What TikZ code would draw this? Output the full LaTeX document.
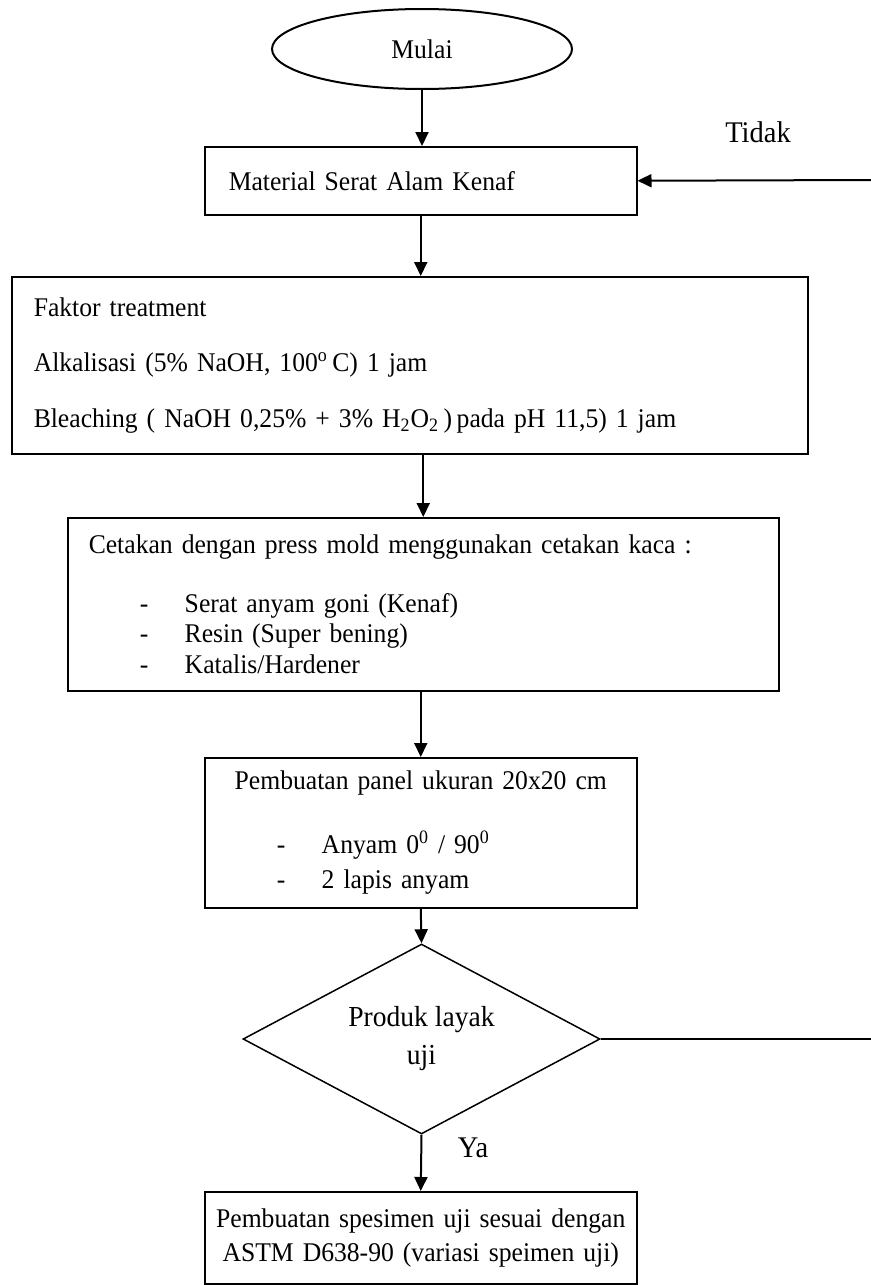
\documentclass[tikz,border=0pt]{standalone}
\usepackage{fontspec}
\setmainfont{Liberation Serif}[FakeStretch=0.95]
\usetikzlibrary{arrows.meta, shapes.geometric}

\newcommand{\dashitem}{\hspace*{25.5pt}\makebox[22.5pt][l]{-}}

\begin{document}
\begin{tikzpicture}[x=0.5pt, y=-0.5pt,
    startnode/.style={draw, ellipse, line width=1pt, minimum width=150pt, minimum height=40pt, inner sep=0pt, font=\fontsize{13.5}{16}\selectfont},
    procbox/.style={draw, line width=0.75pt, anchor=north west, align=left, inner ysep=0pt, inner xsep=10.5pt, font=\fontsize{13.5}{15.25}\selectfont},
    decision/.style={draw, diamond, aspect=1.88, line width=0.75pt, minimum width=178.5pt, minimum height=95pt, inner sep=0pt, align=center, font=\fontsize{14.5}{19}\selectfont},
    branchlabel/.style={font=\fontsize{15}{18}\selectfont},
    flowarrow/.style={-{Triangle[length=7pt, width=6.5pt]}, line width=1pt}]
    \useasboundingbox (0,0) rectangle (871,1285);

    \node[startnode] (mulai) at (422,49) {Mulai};
    \node[procbox, text width=192pt, inner xsep=12pt, minimum height=34pt] (material) at (204,146) {Material Serat Alam Kenaf};
    \node[procbox, text width=376pt, inner xsep=11pt, minimum height=88.5pt] (faktor) at (11,276)
        {Faktor treatment\\[12.5pt]
         Alkalisasi (5\% NaOH, 100\textsuperscript{o}\,C) 1 jam\\[12.5pt]
         Bleaching ( NaOH 0,25\% + 3\% H\textsubscript{2}O\textsubscript{2}\,)\,pada pH 11,5) 1 jam};
    \node[procbox, text width=334.5pt, minimum height=86.5pt] (cetakan) at (67,517)
        {Cetakan dengan press mold menggunakan cetakan kaca :\\[14.25pt]
         \dashitem Serat anyam goni (Kenaf)\\
         \dashitem Resin (Super bening)\\
         \dashitem Katalis/Hardener};
    \node[procbox, text width=195pt, minimum height=75pt] (panel) at (204,757)
        {\makebox[195pt]{Pembuatan panel ukuran 20x20 cm}\\[16.75pt]
         \dashitem Anyam 0\textsuperscript{0} / 90\textsuperscript{0}\\[2.25pt]
         \dashitem 2 lapis anyam};
    \node[decision] (layak) at (421.5,1039) {Produk layak\\uji};
    \node[procbox, align=center, text width=208pt, inner xsep=4pt, minimum height=46pt, font=\fontsize{13.5}{17}\selectfont] (spesimen) at (204,1191)
        {Pembuatan spesimen uji sesuai dengan\\ASTM D638-90 (variasi speimen uji)};

    \node[branchlabel] (tidak) at (758,132) {Tidak};
    \node[branchlabel] (ya) at (473,1148) {Ya};

    \coordinate (tidakin) at (871,180);
    \coordinate (tidakout) at (871,1039);

    \draw[flowarrow] (mulai.south) -- (mulai.south |- material.north);
    \draw[flowarrow] (material.south) -- (material.south |- faktor.north);
    \draw[flowarrow] (cetakan.north |- faktor.south) -- (cetakan.north);
    \draw[flowarrow] (panel.north |- cetakan.south) -- (panel.north);
    \draw[flowarrow] (panel.south) -- (layak.north);
    \draw[flowarrow] (layak.south) -- (spesimen.north);
    \draw[flowarrow] (tidakin) -- (material.east);
    \draw[line width=1pt] (layak.east) -- (tidakout);
\end{tikzpicture}
\end{document}
